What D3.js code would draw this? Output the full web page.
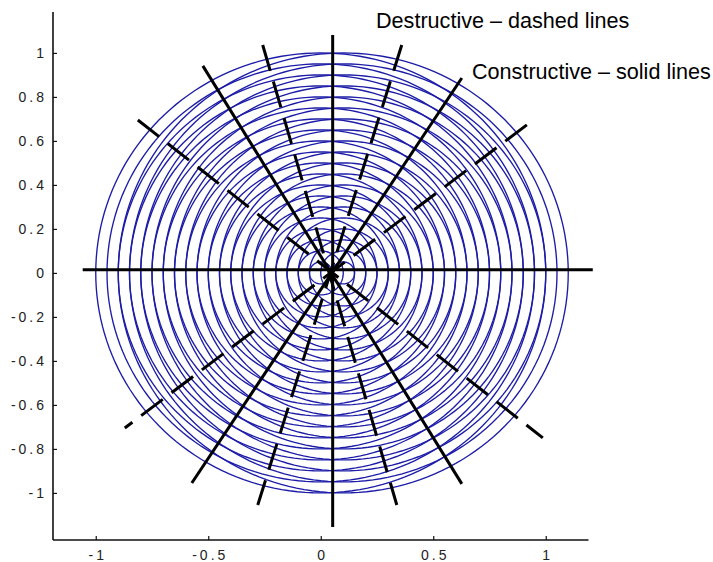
<!DOCTYPE html>
<html><head><meta charset="utf-8">
<script src="https://cdn.jsdelivr.net/npm/d3@7"></script>
<style>
html,body{margin:0;padding:0;background:#fff;}
svg{display:block;}
text{font-family:"Liberation Sans",Arial,sans-serif;}
</style></head>
<body>
<script>
// ---- data ----
const sourceX = [0, 0.1];
const radii = [0.05,0.10,0.15,0.20,0.25,0.30,0.35,0.40,0.45,0.50,0.55,0.60,0.65,0.70,0.75,0.80,0.85,0.90,0.95,1.00];
const xTicks = [-1, -0.5, 0, 0.5, 1];
const yTicks = [-1, -0.8, -0.6, -0.4, -0.2, 0, 0.2, 0.4, 0.6, 0.8, 1];
// constructive lines (solid), endpoints in data units
const solidLines = [
  [-1.058, 0.014, 1.209, 0.014],
  [0.053, 1.082, 0.053, -1.155],
  [-0.524, 0.941, 0.627, -0.959],
  [0.627, 0.886, -0.573, -0.955]
];
// destructive lines (dashed)
const dashedLines = [
  [-0.258, 1.036, 0.338, -1.055],
  [0.360, 1.036, -0.280, -1.055],
  [-0.813, 0.695, 0.987, -0.750],
  [0.916, 0.673, -0.871, -0.705]
];
const labels = ["Destructive \u2013 dashed lines", "Constructive \u2013 solid lines"];

// ---- chart ----
const W = 713, H = 562;
const svg = d3.select("body").append("svg").attr("width", W).attr("height", H);
const x = d3.scaleLinear().domain([-1.19, 1.19]).range([53, 588.5]);
const y = d3.scaleLinear().domain([-1.214, 1.186]).range([540, 12]);

// circles
const angles = d3.range(0, 361, 2).map(a => a * Math.PI / 180);
const line = d3.line().x(d => x(d[0])).y(d => y(d[1]));
const gC = svg.append("g");
sourceX.forEach(cx => {
  radii.forEach(r => {
    gC.append("path")
      .attr("d", line(angles.map(t => [cx + r * Math.cos(t), r * Math.sin(t)])))
      .attr("fill", "none").attr("stroke", "#1c1ca8").attr("stroke-width", 1.35);
  });
});

// axes
const fmt = d => String(+(+d).toFixed(1)).replace("\u2212", "-");
const xAxis = d3.axisBottom(x).tickValues(xTicks).tickSizeInner(-4).tickSizeOuter(0).tickPadding(10).tickFormat(fmt);
const yAxis = d3.axisLeft(y).tickValues(yTicks).tickSizeInner(-4).tickSizeOuter(0).tickPadding(6).tickFormat(fmt);
const gx = svg.append("g").attr("transform", "translate(0,540)").call(xAxis);
const gy = svg.append("g").attr("transform", "translate(53,0)").call(yAxis);
[gx, gy].forEach(g => {
  g.select(".domain").attr("stroke", "#111").attr("stroke-width", 1.6);
  g.selectAll(".tick line").attr("stroke", "#111").attr("stroke-width", 1.2);
  g.selectAll(".tick text").attr("fill", "#222").attr("font-size", 14)
    .attr("font-family", "'Liberation Sans', Arial, sans-serif").style("letter-spacing", "3px");
});
gx.selectAll(".tick text").attr("dx", 1.5);
gx.select(".domain").attr("d", `M${x.range()[0]},0H${x.range()[1]}`);
gy.select(".domain").attr("d", `M0,${y.range()[0]}V${y.range()[1]}`);

// interference lines
const gL = svg.append("g");
solidLines.forEach(l => {
  gL.append("line").attr("x1", x(l[0])).attr("y1", y(l[1])).attr("x2", x(l[2])).attr("y2", y(l[3]))
    .attr("stroke", "#000").attr("stroke-width", 3);
});
dashedLines.forEach(l => {
  gL.append("line").attr("x1", x(l[0])).attr("y1", y(l[1])).attr("x2", x(l[2])).attr("y2", y(l[3]))
    .attr("stroke", "#000").attr("stroke-width", 3).attr("stroke-dasharray", "27,11");
});

// labels
svg.append("text").attr("x", 376).attr("y", 28).attr("font-size", 21.6).attr("fill", "#000").text(labels[0]);
svg.append("text").attr("x", 472).attr("y", 79).attr("font-size", 21.6).attr("fill", "#000").text(labels[1]);
</script>
</body></html>
